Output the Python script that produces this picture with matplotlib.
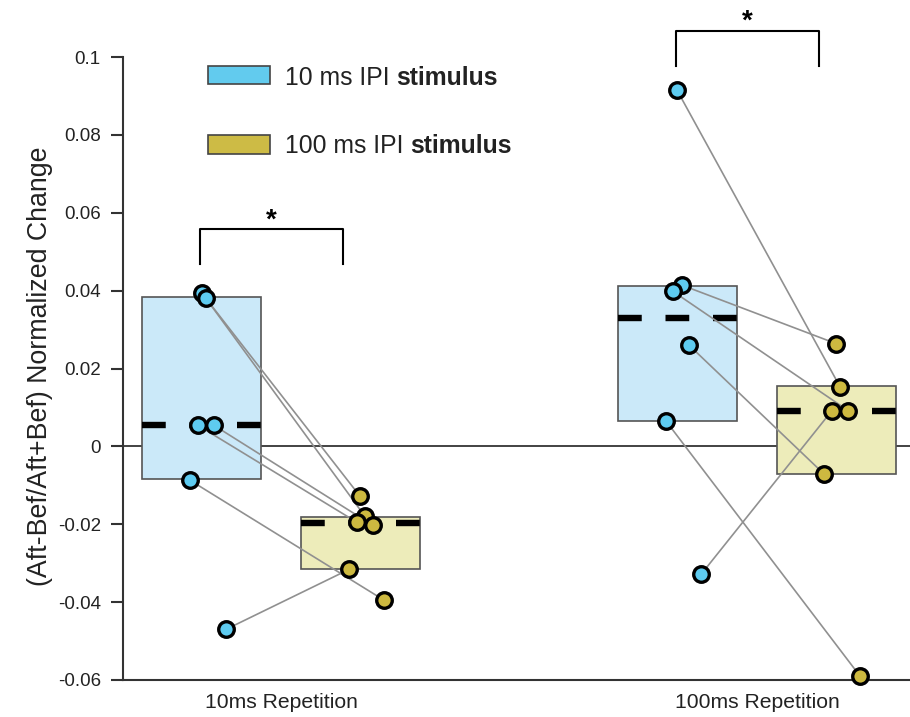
import matplotlib
matplotlib.use('Agg')
import matplotlib.pyplot as plt
from matplotlib.patches import Rectangle

plt.rcParams['font.family'] = ['Liberation Sans', 'DejaVu Sans']
plt.rcParams['lines.scale_dashes'] = False

# ---------------- data ----------------
groups = ['10ms Repetition', '100ms Repetition']
series_labels = ['10 ms IPI', '100 ms IPI']
yticks = [0.1, 0.08, 0.06, 0.04, 0.02, 0, -0.02, -0.04, -0.06]
ytick_labels = ['0.1', '0.08', '0.06', '0.04', '0.02', '0', '-0.02', '-0.04', '-0.06']
ylabel = '(Aft-Bef/Aft+Bef) Normalized Change'

# boxes (per repetition group)
ipi10_low = [-0.0085, 0.0065]
ipi10_high = [0.0383, 0.0413]
ipi10_mid = [0.0054, 0.0329]
ipi100_low = [-0.0316, -0.0072]
ipi100_high = [-0.0182, 0.0154]
ipi100_mid = [-0.0198, 0.0092]

# paired subject values
ipi10_rep10 = [0.0393, 0.0380, 0.0054, 0.0054, -0.0087, -0.0470]
ipi100_rep10 = [-0.0128, -0.0180, -0.0195, -0.0203, -0.0395, -0.0316]
ipi10_rep100 = [0.0915, 0.0414, 0.0398, 0.0260, 0.0065, -0.0329]
ipi100_rep100 = [0.0153, 0.0264, 0.0092, -0.0071, -0.0590, 0.0092]

# significance brackets
sig_top = [0.0557, 0.1066]
sig_text = ['*', '*']

# ---------------- layout / style ----------------
blue_dot = '#5ECBF0'
blue_box = '#CBE9F9'
yel_dot = '#CDB940'
yel_box = '#EDECBA'
legend_blue = '#62CBEE'
legend_yel = '#CDBB45'
text_col = '#222222'

offset = 0.166
bar_w = 0.25
px = 1 / 476.0
jit_b1 = [0, 4, -4, 12, -12, 24]
jit_y1 = [0, 5, -3, 13, 24, -11]
jit_b2 = [-1, 4, -5, 11, -12, 23]
jit_y2 = [4, 0, 12, -12, 24, -4]

fig = plt.figure(figsize=(9.10, 7.17), dpi=100)
ax = fig.add_axes([123 / 910, 1 - 680 / 717, 787 / 910, 623 / 717])
ax.set_xlim(-0.3319, 1.3214)
ax.set_ylim(-0.06, 0.1)

# zero line
ax.axhline(0, color='#222222', lw=1.2, zorder=1)

low = [ipi10_low, ipi100_low]
high = [ipi10_high, ipi100_high]
mid = [ipi10_mid, ipi100_mid]
box_cols = [blue_box, yel_box]
for s in range(2):
    xs = [g + (2 * s - 1) * offset for g in range(2)]
    heights = [h - l for h, l in zip(high[s], low[s])]
    ax.bar(xs, heights, bottom=low[s], width=bar_w, color=box_cols[s],
           edgecolor='#555555', linewidth=1.2, zorder=2)
    for x, m in zip(xs, mid[s]):
        ax.plot([x - bar_w / 2, x + bar_w / 2], [m, m], color='black', lw=4.6,
                dashes=(17.1, 17.1), solid_capstyle='butt', dash_capstyle='butt', zorder=3)

pairs = [(ipi10_rep10, ipi100_rep10, jit_b1, jit_y1),
         (ipi10_rep100, ipi100_rep100, jit_b2, jit_y2)]
for g, (bv, yv, jb, jy) in enumerate(pairs):
    xb = [g - offset + j * px for j in jb]
    xy = [g + offset + j * px for j in jy]
    for x0, y0, x1, y1 in zip(xb, bv, xy, yv):
        ax.plot([x0, x1], [y0, y1], color='#909090', lw=1.2, zorder=4)
    ax.plot(xb, bv, 'o', ms=11.2, mfc=blue_dot, mec='black', mew=2.4, zorder=5, clip_on=False)
    ax.plot(xy, yv, 'o', ms=11.2, mfc=yel_dot, mec='black', mew=2.4, zorder=5, clip_on=False)

# significance brackets
for g in range(2):
    x0 = g - 0.170
    x1 = g + 0.130
    top = sig_top[g]
    ax.plot([x0, x0, x1, x1], [top - 0.0089, top, top, top - 0.0089], color='black',
            lw=1.5, clip_on=False, zorder=6)
    ax.text((x0 + x1) / 2, top + 0.0006, sig_text[g], ha='center', va='baseline',
            fontsize=20, fontweight='bold', color='black', clip_on=False)

# axes styling
for sp in ['top', 'right']:
    ax.spines[sp].set_visible(False)
for sp in ['left', 'bottom']:
    ax.spines[sp].set_color('#333333')
    ax.spines[sp].set_linewidth(1.5)
ax.set_yticks(yticks)
ax.set_yticklabels(ytick_labels)
ax.set_xticks([0, 1])
ax.set_xticklabels(groups)
ax.tick_params(axis='y', length=8.5, width=1.5, color='#333333', pad=7.5,
               labelsize=13.5, labelcolor=text_col)
ax.tick_params(axis='x', length=0, pad=9, labelsize=15.2, labelcolor=text_col)

fig.text(40 / 910, 1 - 366 / 717, ylabel, rotation=90, ha='center', va='center',
         fontsize=19.3, color=text_col)

# legend (manual)
leg_cols = [legend_blue, legend_yel]
patch_bottom = [0.9562, 0.8443]
text_base = [0.9551, 0.8454]
for i in range(2):
    ax.add_patch(Rectangle((0.108, patch_bottom[i]), 0.0788, 0.0299, transform=ax.transAxes,
                           facecolor=leg_cols[i], edgecolor='#444444', lw=1.2, clip_on=False,
                           zorder=7))
    t1 = ax.text(0.2058, text_base[i], series_labels[i], transform=ax.transAxes,
                 fontsize=17.8, color=text_col, ha='left', va='baseline')
    ax.annotate('stimulus', xy=(1, 0), xycoords=t1, xytext=(4.9, 0),
                textcoords='offset points', fontsize=17.8, fontweight='bold',
                color=text_col, ha='left', va='bottom')

fig.savefig('out.png', dpi=100)
